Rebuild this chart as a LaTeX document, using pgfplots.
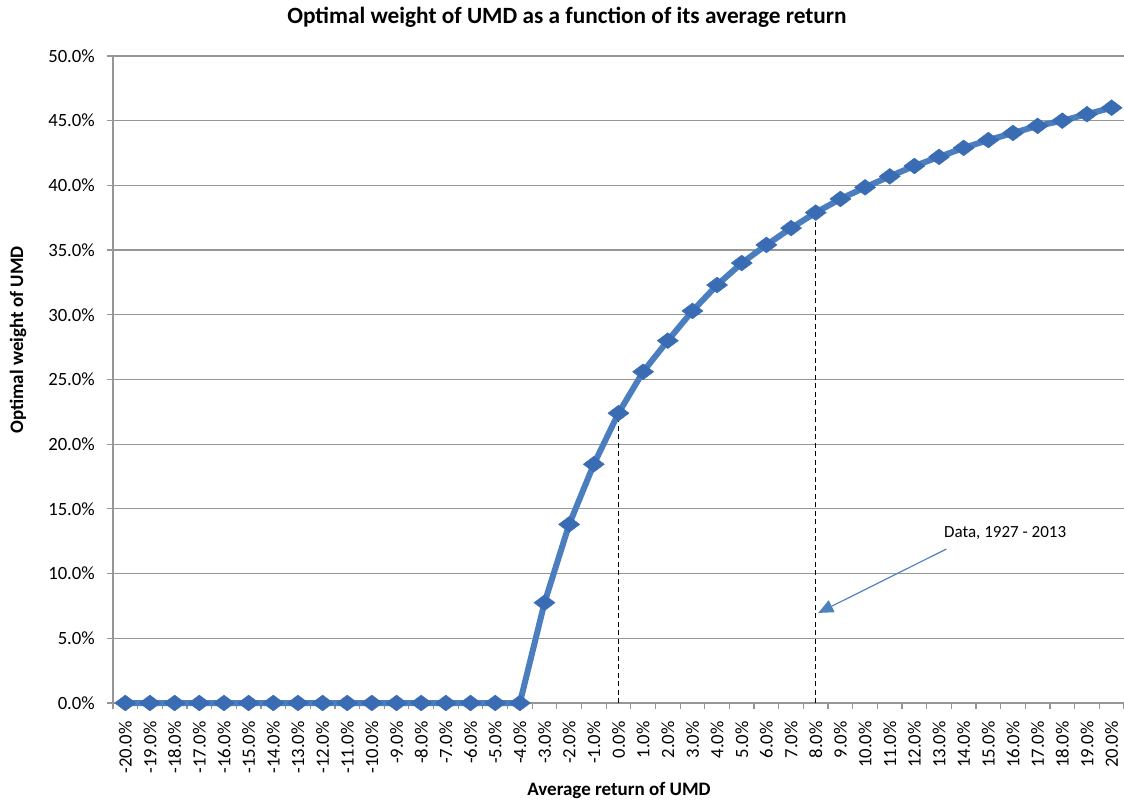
\documentclass[border=0pt]{standalone}
\usepackage{pgfplots}
\pgfplotsset{compat=1.18}
\usepackage{fontspec}
\setmainfont{Carlito}
\usetikzlibrary{arrows.meta}
\definecolor{serblue}{RGB}{74,126,190}
\definecolor{mkblue}{RGB}{58,108,180}
\definecolor{gridgray}{RGB}{150,150,150}
\definecolor{arrblue}{RGB}{79,129,189}
\begin{document}
\begin{tikzpicture}
\path[use as bounding box] (-113bp,-97bp) rectangle (1011bp,703bp);
\begin{axis}[
  scale only axis,
  width=1011bp, height=647bp,
  xmin=-0.5, xmax=40.5,
  ymin=0, ymax=50,
  axis lines=left,
  axis line style={-, gridgray, line width=1.2bp},
  tick align=outside,
  ytick={0,5,...,50},
  yticklabel={\pgfmathprintnumber[fixed,fixed zerofill,precision=1]{\tick}\%},
  /pgf/number format/assume math mode=true,
  ymajorgrids,
  major grid style={gridgray, line width=1.2bp},
  major tick length=6bp,
  minor tick length=6bp,
  ytick style={gridgray, line width=1.2bp},
  xtick={0,...,40},
  xticklabels={-20.0\%,-19.0\%,-18.0\%,-17.0\%,-16.0\%,-15.0\%,-14.0\%,-13.0\%,-12.0\%,-11.0\%,-10.0\%,-9.0\%,-8.0\%,-7.0\%,-6.0\%,-5.0\%,-4.0\%,-3.0\%,-2.0\%,-1.0\%,0.0\%,1.0\%,2.0\%,3.0\%,4.0\%,5.0\%,6.0\%,7.0\%,8.0\%,9.0\%,10.0\%,11.0\%,12.0\%,13.0\%,14.0\%,15.0\%,16.0\%,17.0\%,18.0\%,19.0\%,20.0\%},
  minor xtick={-0.5,0.5,...,40.5},
  xtick style={draw=none},
  minor x tick style={draw=gridgray, line width=1.2bp},
  xticklabel style={rotate=90, anchor=east, font=\fontsize{18.7bp}{20bp}\selectfont, inner sep=0pt, xshift=-12bp},
  yticklabel style={anchor=east, font=\fontsize{18.7bp}{20bp}\selectfont, inner sep=0pt, xshift=-12bp},
  clip=false,
]
\addplot[serblue, line width=6bp, mark=diamond*, mark size=10.5bp,
  mark options={rotate=90, fill=mkblue, draw=mkblue, line width=0.5bp}]
 coordinates {
 (0,0) (1,0) (2,0) (3,0) (4,0) (5,0) (6,0) (7,0) (8,0) (9,0) (10,0)
 (11,0) (12,0) (13,0) (14,0) (15,0) (16,0)
 (17,7.75) (18,13.8) (19,18.45) (20,22.4) (21,25.6) (22,28.0) (23,30.3)
 (24,32.3) (25,34.0) (26,35.4) (27,36.7) (28,37.9) (29,38.95) (30,39.85)
 (31,40.7) (32,41.5) (33,42.2) (34,42.9) (35,43.5) (36,44.05) (37,44.6)
 (38,45.0) (39,45.5) (40,46.0)
 };
\addplot[black, line width=1.4bp, dash pattern=on 5bp off 3.5bp] coordinates {(20,0) (20,22.4)};
\addplot[black, line width=1.4bp, dash pattern=on 5bp off 3.5bp] coordinates {(28,0) (28,37.9)};
\addplot[arrblue, line width=1.2bp, -{Triangle[length=15bp, width=13bp]}] coordinates {(33.3,11.9) (28.1,6.96)};
\node[anchor=west, inner sep=0pt, font=\fontsize{17bp}{19bp}\selectfont] at (axis cs:33.2,13.1) {Data, 1927 - 2013};
\end{axis}
\node[font=\fontsize{23.3bp}{26bp}\selectfont\bfseries] at (454bp,686bp) {Optimal weight of UMD as a function of its average return};
\node[font=\fontsize{19bp}{22bp}\selectfont\bfseries] at (506bp,-88bp) {Average return of UMD};
\node[rotate=90, font=\fontsize{19bp}{22bp}\selectfont\bfseries] at (-95bp,363bp) {Optimal weight of UMD};
\end{tikzpicture}
\end{document}
